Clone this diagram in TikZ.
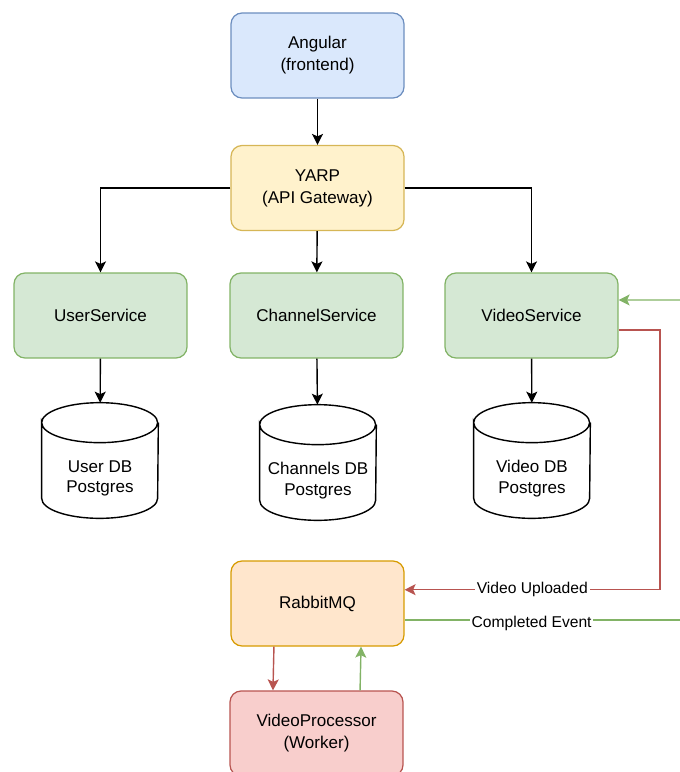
\documentclass[tikz,border=0pt]{standalone}
\usepackage{fontspec}
\setmainfont{Liberation Sans}
\usetikzlibrary{calc,arrows.meta}
\definecolor{blueFill}{HTML}{DAE8FC}\definecolor{blueLine}{HTML}{6C8EBF}
\definecolor{yellowFill}{HTML}{FFF2CC}\definecolor{yellowLine}{HTML}{D6B656}
\definecolor{greenFill}{HTML}{D5E8D4}\definecolor{greenLine}{HTML}{82B366}
\definecolor{orangeFill}{HTML}{FFE6CC}\definecolor{orangeLine}{HTML}{D79B00}
\definecolor{redFill}{HTML}{F8CECC}\definecolor{redLine}{HTML}{B85450}
\def\dbcylinder(#1){\draw[dbline] ($(#1.north west)+(0,-0.4cm)$) arc (180:-180:1.16cm and 0.4cm) -- ($(#1.south west)+(0,0.4cm)$) arc (180:360:1.16cm and 0.4cm) -- ($(#1.north east)+(0,-0.4cm)$);}

\begin{document}
\begin{tikzpicture}[x=0.02cm, y=0.02cm,
	font=\fontsize{9.7}{12.5}\selectfont,
	box/.style={draw, line width=0.7pt, rounded corners=0.22cm, minimum width=3.46cm, minimum height=1.7cm, align=center, inner sep=0},
	dbshape/.style={minimum width=2.32cm, minimum height=2.3cm, inner sep=0},
	dbline/.style={draw=black, fill=white, line width=0.8pt},
	dbtext/.style={align=center, inner sep=0, font=\fontsize{9.7}{11.5}\selectfont},
	link/.style={line width=0.8pt, -{Stealth[length=0.22cm, width=0.22cm, inset=0.05cm]}},
	redlink/.style={line width=0.8pt, draw=redLine, -{Stealth[length=0.22cm, width=0.22cm, inset=0.05cm, color=redLine]}},
	greenlink/.style={line width=0.8pt, draw=greenLine, -{Stealth[length=0.22cm, width=0.22cm, inset=0.05cm, color=greenLine]}},
	tag/.style={fill=white, text=black, inner sep=1pt, font=\fontsize{8.9}{10}\selectfont}]
	%%%%% START %%%%%
	
	\useasboundingbox (0, 0) rectangle (680, -772);
	\clip (0, 0) rectangle (680, -772);
	
	\node[box, fill=blueFill, draw=blueLine] (angular) at (317.5, -55.5) {Angular\\(frontend)};
	\node[box, fill=yellowFill, draw=yellowLine] (yarp) at (317.5, -188) {YARP\\(API Gateway)};
	
	\node[box, fill=greenFill, draw=greenLine] (usersvc) at (100.5, -315.5) {UserService};
	\node[box, fill=greenFill, draw=greenLine] (channelsvc) at (316.5, -315.5) {ChannelService};
	\node[box, fill=greenFill, draw=greenLine] (videosvc) at (531.5, -315.5) {VideoService};
	
	\node[dbshape] (userdb) at (100, -460.5) {};
	\node[dbshape] (channeldb) at (318, -462.5) {};
	\node[dbshape] (videodb) at (532, -460.5) {};
	\dbcylinder(userdb)
	\dbcylinder(channeldb)
	\dbcylinder(videodb)
	\node[dbtext] (userdbtxt) at ($(userdb)+(0, -18)$) {User DB\\Postgres};
	\node[dbtext] (channeldbtxt) at ($(channeldb)+(0, -18)$) {Channels DB\\Postgres};
	\node[dbtext] (videodbtxt) at ($(videodb)+(0, -18)$) {Video DB\\Postgres};
	
	\node[box, fill=orangeFill, draw=orangeLine] (rabbit) at (317.5, -603.5) {RabbitMQ};
	\node[box, fill=redFill, draw=redLine] (worker) at (316.5, -733.5) {VideoProcessor\\(Worker)};
	
	% gateway fan-out
	\draw[link] (angular) -- (yarp);
	\draw[link] (yarp.west) -| (usersvc.north);
	\draw[link] (yarp) -- (channelsvc);
	\draw[link] (yarp.east) -| (videosvc.north);
	
	\draw[link] (usersvc) -- (userdb);
	\draw[link] (channelsvc) -- (channeldb);
	\draw[link] (videosvc) -- (videodb);
	
	% events
	\coordinate (upR) at (660, -330);
	\coordinate (loopR) at (700, -300);
	\draw[redlink] ($(videosvc.north east)!0.67!(videosvc.south east)$) -| (upR |- {$(rabbit.north east)!0.34!(rabbit.south east)$})
		-- node[tag, pos=0.5] (uploadtag) {Video Uploaded} ($(rabbit.north east)!0.34!(rabbit.south east)$);
	\draw[line width=0.8pt, draw=greenLine] ($(rabbit.north east)!0.69!(rabbit.south east)$)
		-- node[tag, pos=0.43, yshift=-2] (donetag) {Completed Event} (loopR |- {$(rabbit.north east)!0.69!(rabbit.south east)$});
	\draw[greenlink] (loopR) -- ($(videosvc.north east)!0.32!(videosvc.south east)$);
	
	\draw[redlink] ($(rabbit.south west)!0.25!(rabbit.south east)$) -- ($(worker.north west)!0.25!(worker.north east)$);
	\draw[greenlink] ($(worker.north west)!0.75!(worker.north east)$) -- ($(rabbit.south west)!0.75!(rabbit.south east)$);
	
	%%%%% END %%%%%
\end{tikzpicture}
\end{document}
